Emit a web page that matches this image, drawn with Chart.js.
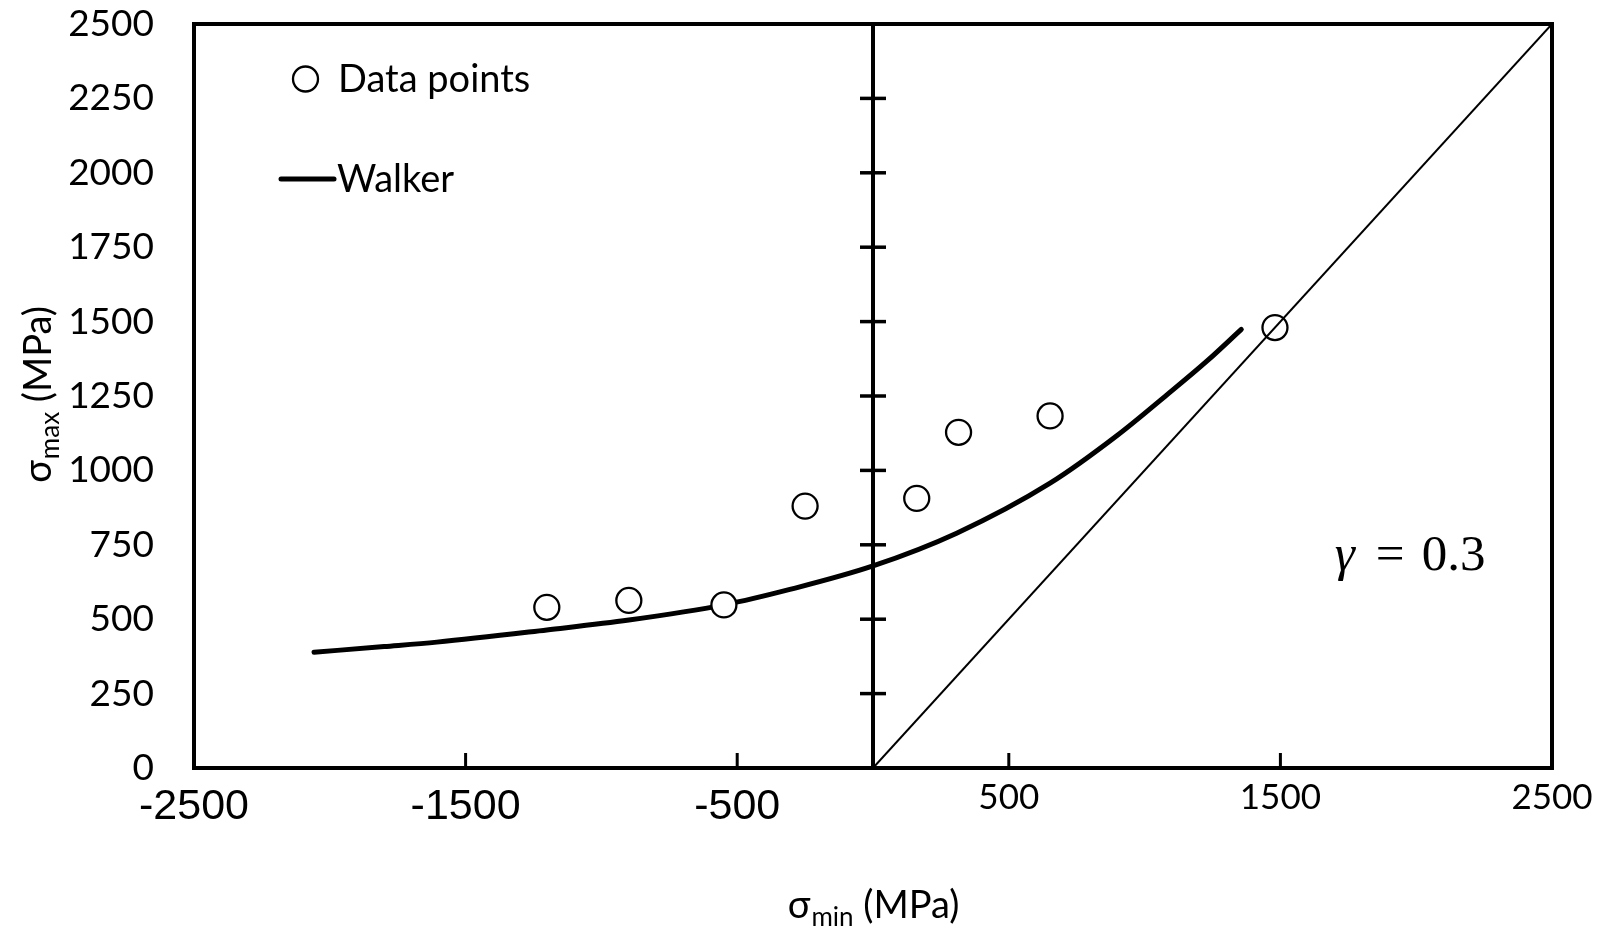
<!DOCTYPE html>
<html>
<head>
<meta charset="utf-8">
<script src="https://cdn.jsdelivr.net/npm/chart.js@4.4.1/dist/chart.umd.min.js"></script>
<style>
  body { margin: 0; background: #fff; }
</style>
</head>
<body>
<canvas id="walker-chart" width="1607" height="933"></canvas>
<script>
// test points, sigma_min / sigma_max in MPa
const data_x = [-1201, -899, -549, -250, 161, 315, 652, 1480];
const data_y = [540, 563, 548, 880, 906, 1128, 1183, 1480];

// Walker curve
const walker_x = [-2058, -1800, -1606, -1201, -899, -549, -306, 0, 308, 652, 900, 1081, 1229, 1356];
const walker_y = [389, 408, 423, 464, 497, 548, 600, 679, 789, 957, 1118, 1253, 1367, 1474];

// sigma_min = sigma_max line
const diag_x = [0, 2500];
const diag_y = [0, 2500];

const x_ticks = [-2500, -1500, -500, 500, 1500, 2500];
const x_marks = [-1500, -500, 500, 1500];
const y_ticks = [0, 250, 500, 750, 1000, 1250, 1500, 1750, 2000, 2250, 2500];

const legend_labels = ["Data points", "Walker"];
const x_title = ["σ", "min", " (MPa)"];
const y_title = ["σ", "max", " (MPa)"];
const gamma_parts = ["γ", "=", "0.3"];
const gamma_at = [1700, 665];

const toPoints = (xs, ys) => xs.map((x, i) => ({x: x, y: ys[i]}));

function drawSubText(ctx, parts, cx, baseline){
    ctx.font = "38px Lato";
    const w0 = ctx.measureText(parts[0]).width;
    const w2 = ctx.measureText(parts[2]).width;
    ctx.font = "26px Lato";
    const w1 = ctx.measureText(parts[1]).width;
    let x = cx - (w0 + w1 + w2) / 2;
    ctx.textAlign = "left";
    ctx.textBaseline = "alphabetic";
    ctx.font = "38px Lato";
    ctx.fillText(parts[0], x, baseline);
    x += w0 + 1;
    ctx.font = "26px Lato";
    ctx.fillText(parts[1], x, baseline + 8);
    x += w1;
    ctx.font = "38px Lato";
    ctx.fillText(parts[2], x, baseline);
}

const decorations = {
    id: "decorations",
    beforeDatasetsDraw(chart){
        const {ctx, chartArea, scales} = chart;
        const x0 = scales.x.getPixelForValue(0);
        ctx.save();
        ctx.strokeStyle = "#000";
        ctx.lineWidth = 4;
        ctx.lineCap = "butt";
        ctx.strokeRect(chartArea.left, chartArea.top, chartArea.width, chartArea.height);

        ctx.beginPath();
        ctx.moveTo(x0, chartArea.top);
        ctx.lineTo(x0, chartArea.bottom);
        ctx.stroke();

        ctx.lineWidth = 3.5;
        y_ticks.forEach(v => {
            if (v === 0 || v === 2500) return;
            const y = scales.y.getPixelForValue(v);
            ctx.beginPath();
            ctx.moveTo(x0 - 13, y);
            ctx.lineTo(x0 + 13, y);
            ctx.stroke();
        });

        ctx.lineWidth = 3;
        x_marks.forEach(v => {
            const x = scales.x.getPixelForValue(v);
            ctx.beginPath();
            ctx.moveTo(x, chartArea.bottom);
            ctx.lineTo(x, chartArea.bottom - 15);
            ctx.stroke();
        });
        ctx.restore();
    },
    afterDraw(chart){
        const {ctx, scales} = chart;
        ctx.save();
        ctx.fillStyle = "#000";
        ctx.strokeStyle = "#000";

        // legend
        ctx.beginPath();
        ctx.arc(305.5, 79, 12.5, 0, Math.PI * 2);
        ctx.fillStyle = "#fff";
        ctx.fill();
        ctx.lineWidth = 2.3;
        ctx.stroke();
        ctx.fillStyle = "#000";
        ctx.font = "38px Lato";
        ctx.textAlign = "left";
        ctx.textBaseline = "middle";
        ctx.fillText(legend_labels[0], 338, 80);

        ctx.beginPath();
        ctx.lineWidth = 5;
        ctx.lineCap = "round";
        ctx.moveTo(281, 179);
        ctx.lineTo(334, 179);
        ctx.stroke();
        ctx.fillText(legend_labels[1], 337, 180);

        // axis titles
        drawSubText(ctx, x_title, scales.x.getPixelForValue(0), 918);
        ctx.save();
        ctx.translate(51, 395);
        ctx.rotate(-Math.PI / 2);
        drawSubText(ctx, y_title, 0, 0);
        ctx.restore();

        // gamma label
        let gx = scales.x.getPixelForValue(gamma_at[0]);
        const gy = scales.y.getPixelForValue(gamma_at[1]);
        ctx.textBaseline = "alphabetic";
        ctx.font = "italic 51px 'Liberation Serif'";
        ctx.fillText(gamma_parts[0], gx, gy);
        gx += 41;
        ctx.font = "51px 'Liberation Serif'";
        ctx.fillText(gamma_parts[1], gx, gy);
        gx += 46;
        ctx.fillText(gamma_parts[2], gx, gy);
        ctx.restore();
    }
};

const ctx = document.getElementById("walker-chart").getContext("2d");

const graph = new Chart(ctx, {
    type: "scatter",
    data: {
        datasets: [
            {
                label: "diagonal",
                data: toPoints(diag_x, diag_y),
                showLine: true,
                borderColor: "#000",
                borderWidth: 2,
                pointRadius: 0,
            },
            {
                label: "Data points",
                data: toPoints(data_x, data_y),
                pointRadius: 12.5,
                pointBorderWidth: 2.3,
                pointBackgroundColor: "#fff",
                pointBorderColor: "#000",
            },
            {
                label: "Walker",
                data: toPoints(walker_x, walker_y),
                showLine: true,
                borderColor: "#000",
                borderWidth: 5,
                borderCapStyle: "round",
                cubicInterpolationMode: "monotone",
                pointRadius: 0,
            },
        ],
    },
    options: {
        responsive: false,
        animation: false,
        layout: { padding: { left: 10, right: 55, top: 24, bottom: 0 } },
        plugins: { legend: { display: false }, tooltip: { enabled: false } },
        scales: {
            x: {
                type: "linear",
                min: -2500,
                max: 2500,
                grid: { display: false, drawTicks: false },
                border: { display: false },
                afterBuildTicks: scale => { scale.ticks = x_ticks.map(v => ({value: v})); },
                afterFit: scale => { scale.height = 165; },
                ticks: {
                    color: "#000",
                    padding: 0,
                    maxRotation: 0,
                    autoSkip: false,
                    callback: value => String(value),
                    font: c => (c.tick && c.tick.value < 0)
                        ? { family: "'Liberation Sans'", size: 43, lineHeight: "78px" }
                        : { family: "Lato", size: 35, lineHeight: "60px" },
                },
            },
            y: {
                type: "linear",
                min: 0,
                max: 2500,
                grid: { display: false, drawTicks: true, tickLength: 40 },
                border: { display: false },
                afterBuildTicks: scale => { scale.ticks = y_ticks.map(v => ({value: v})); },
                afterFit: scale => { scale.width = 184; },
                ticks: {
                    color: "#000",
                    padding: 0,
                    autoSkip: false,
                    callback: value => String(value),
                    font: { family: "Lato", size: 37 },
                },
            },
        },
    },
    plugins: [decorations],
});
</script>
</body>
</html>
